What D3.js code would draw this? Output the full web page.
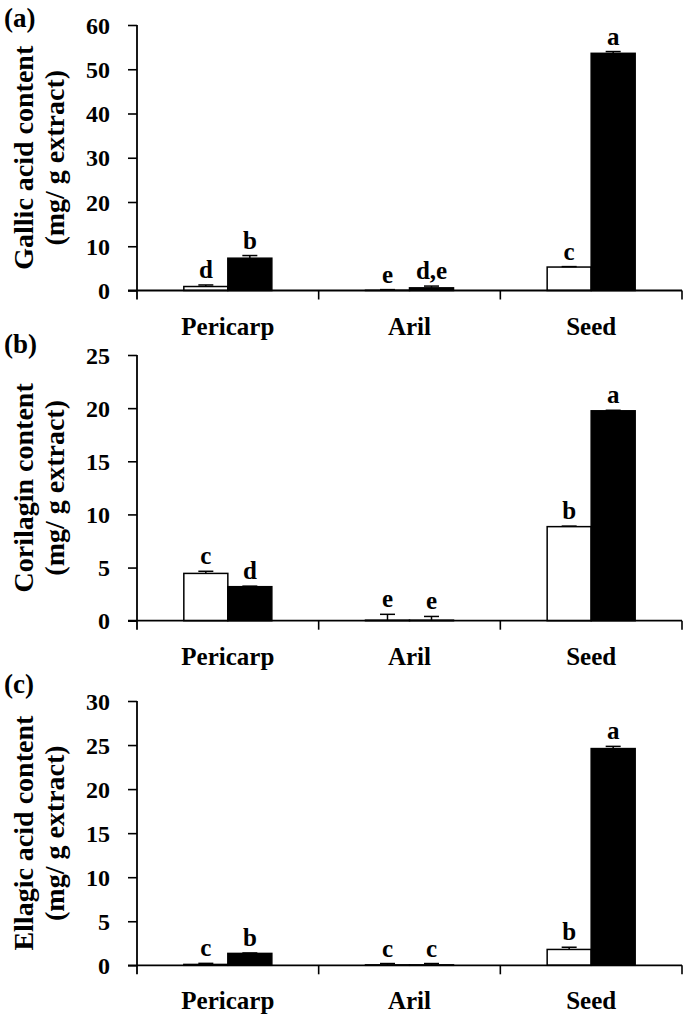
<!DOCTYPE html>
<html>
<head>
<meta charset="utf-8">
<script src="https://cdn.jsdelivr.net/npm/d3@7"></script>
<style>
html,body{margin:0;padding:0;background:#fff;}
svg{display:block;}
text{font-family:"Palatino Linotype","Book Antiqua",Palatino,"Liberation Serif","Times New Roman",serif;font-weight:bold;fill:#000;}
</style>
</head>
<body>
<svg id="chart" width="685" height="1021"></svg>
<script>
// ---------- data ----------
const categories = ["Pericarp", "Aril", "Seed"];
const panelLabels = ["(a)", "(b)", "(c)"];
const yTitles = ["Gallic acid content", "Corilagin content", "Ellagic acid content"];
const unitLabel = "(mg/ g extract)";
const yMaxes = [60, 25, 30];
const yTickSteps = [10, 5, 5];

const gallicWhite = [0.9, 0.05, 5.3];
const gallicWhiteErr = [0.35, 0.15, 0.1];
const gallicBlack = [7.3, 0.6, 53.6];
const gallicBlackErr = [0.6, 0.4, 0.4];
const gallicWhiteLetters = ["d", "e", "c"];
const gallicBlackLetters = ["b", "d,e", "a"];

const corilaginWhite = [4.45, 0.05, 8.85];
const corilaginWhiteErr = [0.2, 0.55, 0.05];
const corilaginBlack = [3.2, 0.05, 19.75];
const corilaginBlackErr = [0.05, 0.35, 0.05];
const corilaginWhiteLetters = ["c", "e", "b"];
const corilaginBlackLetters = ["d", "e", "a"];

const ellagicWhite = [0.1, 0.05, 1.8];
const ellagicWhiteErr = [0.12, 0.15, 0.25];
const ellagicBlack = [1.35, 0.05, 24.6];
const ellagicBlackErr = [0.05, 0.15, 0.25];
const ellagicWhiteLetters = ["c", "c", "b"];
const ellagicBlackLetters = ["b", "c", "a"];

const seriesKeys = ["white", "black"];

const panels = [
  {white: gallicWhite, whiteErr: gallicWhiteErr, black: gallicBlack, blackErr: gallicBlackErr, wl: gallicWhiteLetters, bl: gallicBlackLetters},
  {white: corilaginWhite, whiteErr: corilaginWhiteErr, black: corilaginBlack, blackErr: corilaginBlackErr, wl: corilaginWhiteLetters, bl: corilaginBlackLetters},
  {white: ellagicWhite, whiteErr: ellagicWhiteErr, black: ellagicBlack, blackErr: ellagicBlackErr, wl: ellagicWhiteLetters, bl: ellagicBlackLetters}
];

// ---------- layout ----------
const svg = d3.select("#chart");
const xLeft = 137, xRight = 682;
const panelTops = [25, 355, 701];
const panelBottoms = [290.5, 620.7, 965.3];
const panelLabelY = [27, 353, 693];
const fontTick = 24, fontCat = 25, fontTitle = 28, fontLetter = 25;

const x = d3.scaleBand().domain(categories).range([xLeft, xRight]).paddingInner(0).paddingOuter(0);
const xs = d3.scaleBand().domain(seriesKeys).range([0, x.bandwidth()]).paddingInner(0).paddingOuter(1.064);

panels.forEach((p, i) => {
  const g = svg.append("g");
  const y = d3.scaleLinear().domain([0, yMaxes[i]]).range([panelBottoms[i], panelTops[i]]);
  const ticks = d3.range(0, yMaxes[i] + 0.001, yTickSteps[i]);

  // y axis
  const yAxis = d3.axisLeft(y).tickValues(ticks).tickSize(9).tickPadding(18).tickFormat(d3.format("d"));
  const ya = g.append("g").attr("transform", `translate(${xLeft},0)`).call(yAxis);
  ya.select(".domain").remove();
  ya.selectAll("line").attr("stroke", "#000").attr("stroke-width", 1.6);
  ya.selectAll("text").style("font-size", fontTick + "px").attr("dy", "0.34em");
  g.append("line").attr("x1", xLeft).attr("x2", xLeft)
    .attr("y1", panelTops[i]).attr("y2", panelBottoms[i] + 9)
    .attr("stroke", "#000").attr("stroke-width", 1.8);

  // bars
  const rows = categories.map((c, k) => ({c, k}));
  seriesKeys.forEach(s => {
    const vals = p[s], errs = p[s + "Err"];
    g.selectAll(null).data(rows).enter().append("rect")
      .attr("x", d => x(d.c) + xs(s))
      .attr("width", xs.bandwidth())
      .attr("y", d => y(vals[d.k]))
      .attr("height", d => y(0) - y(vals[d.k]))
      .attr("fill", s === "white" ? "#fff" : "#000")
      .attr("stroke", "#000").attr("stroke-width", 1.5);
    // error bars (plus direction)
    g.selectAll(null).data(rows).enter().append("line")
      .attr("x1", d => x(d.c) + xs(s) + xs.bandwidth() / 2)
      .attr("x2", d => x(d.c) + xs(s) + xs.bandwidth() / 2)
      .attr("y1", d => y(vals[d.k]))
      .attr("y2", d => y(vals[d.k] + errs[d.k]))
      .attr("stroke", "#000").attr("stroke-width", 1.5);
    g.selectAll(null).data(rows).enter().append("line")
      .attr("x1", d => x(d.c) + xs(s) + xs.bandwidth() / 2 - 7.5)
      .attr("x2", d => x(d.c) + xs(s) + xs.bandwidth() / 2 + 7.5)
      .attr("y1", d => y(vals[d.k] + errs[d.k]))
      .attr("y2", d => y(vals[d.k] + errs[d.k]))
      .attr("stroke", "#000").attr("stroke-width", 1.5);
    const letters = s === "white" ? p.wl : p.bl;
    g.selectAll(null).data(rows).enter().append("text")
      .attr("x", d => x(d.c) + xs(s) + xs.bandwidth() / 2)
      .attr("y", d => y(vals[d.k] + errs[d.k]) - 7)
      .attr("text-anchor", "middle")
      .style("font-size", fontLetter + "px")
      .text(d => letters[d.k]);
  });

  // x axis
  g.append("line").attr("x1", xLeft - 9).attr("x2", xRight)
    .attr("y1", y(0)).attr("y2", y(0))
    .attr("stroke", "#000").attr("stroke-width", 1.8);
  const bounds = categories.map(c => x(c)).concat([xRight]);
  g.selectAll(null).data(bounds.slice(1)).enter().append("line")
    .attr("x1", d => d).attr("x2", d => d)
    .attr("y1", y(0)).attr("y2", y(0) + 9)
    .attr("stroke", "#000").attr("stroke-width", 1.6);
  g.selectAll(null).data(categories).enter().append("text")
    .attr("x", d => x(d) + x.bandwidth() / 2)
    .attr("y", y(0) + 44)
    .attr("text-anchor", "middle")
    .style("font-size", fontCat + "px")
    .text(d => d);

  // y title
  const cy = (panelTops[i] + panelBottoms[i]) / 2;
  g.append("text").attr("transform", `translate(33,${cy}) rotate(-90)`)
    .attr("text-anchor", "middle").style("font-size", fontTitle + "px").text(yTitles[i]);
  g.append("text").attr("transform", `translate(64,${cy}) rotate(-90)`)
    .attr("text-anchor", "middle").style("font-size", fontTitle + "px").text(unitLabel);

  // panel label
  g.append("text").attr("x", 4).attr("y", panelLabelY[i])
    .style("font-size", "27px").text(panelLabels[i]);
});
</script>
</body>
</html>
